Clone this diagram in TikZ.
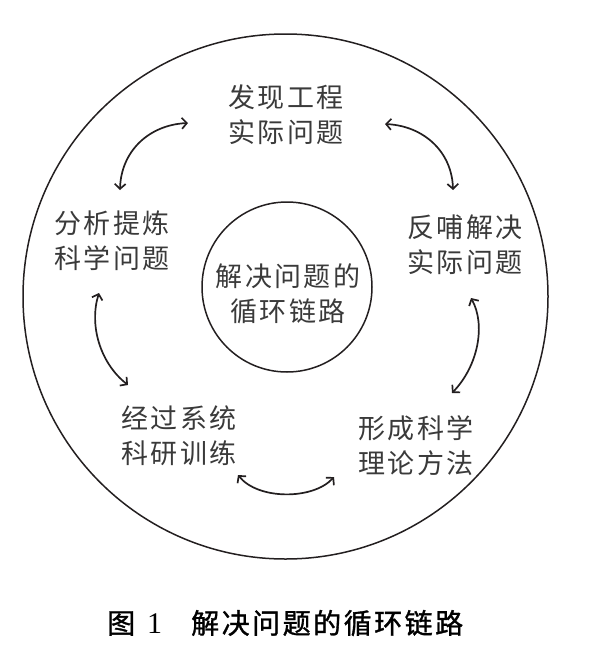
\documentclass[tikz,border=0pt]{standalone}
\usepackage{fontspec}
\usetikzlibrary{arrows.meta}
\setmainfont{Liberation Serif}
\newfontfamily\cjk[LetterSpace=9]{Noto Sans CJK SC}
\newfontfamily\capcjk[FakeBold=1.2]{Noto Sans CJK SC}
\newcommand\capbox[1]{\makebox[30.5pt][l]{#1}}
\definecolor{ink}{HTML}{231F20}
\definecolor{txt}{HTML}{3A3A3A}
\tikzset{
  lbl/.style={align=center, inner sep=0pt, text=txt, font=\cjk\fontsize{27}{35}\selectfont},
  cyc/.style={draw=ink, line width=1.7pt, {Straight Barb[length=5pt,width=11pt]}-{Straight Barb[length=5pt,width=11pt]}},
  ring/.style={draw=ink, line width=1.5pt}
}
\begin{document}
\begin{tikzpicture}[x=1pt,y=-1pt]
\useasboundingbox (0,0) rectangle (589,656);
% outer circle
\draw[ring] (285.5,296.5) circle[radius=262.5pt];
% inner circle
\node[ring, circle, minimum size=170pt, inner sep=0pt] (core) at (287,287) {};
\node[lbl] (coretext) at (288,294) {解决问题的\\循环链路};
% labels
\node[lbl] (top)   at (286,114.5) {发现工程\\实际问题};
\node[lbl] (left)  at (112,240.5) {分析提炼\\科学问题};
\node[lbl] (right) at (465,244.5) {反哺解决\\实际问题};
\node[lbl] (bl)    at (179,435.5) {经过系统\\科研训练};
\node[lbl] (br)    at (416,445.5) {形成科学\\理论方法};
% arrow end points
\coordinate (a1) at (120,190);
\coordinate (a2) at (188,123);
\coordinate (b1) at (453,190);
\coordinate (b2) at (385,124);
\coordinate (c1) at (99,293);
\coordinate (c2) at (128,385);
\coordinate (d1) at (471,298);
\coordinate (d2) at (452,393);
\coordinate (e1) at (238,475);
\coordinate (e2) at (334,477);
% arrows
\draw[cyc] (a1) .. controls (121,152) and (148,125) .. (a2);
\draw[cyc] (b1) .. controls (452,152) and (424,126) .. (b2);
\draw[cyc] (c1) .. controls (89,325) and (100,363) .. (c2);
\draw[cyc] (d1) .. controls (486,325) and (478,366) .. (d2);
\draw[cyc] (e1) .. controls (258,500) and (313,500) .. (e2);
% caption
\node[anchor=west, inner sep=0pt, text=black] (cap) at (107,623)
  {\capcjk\fontsize{28}{30}\selectfont \makebox[40pt][l]{图}\makebox[44pt][l]{\rmfamily\fontsize{30}{30}\selectfont 1}\capbox{解}\capbox{决}\capbox{问}\capbox{题}\capbox{的}\capbox{循}\capbox{环}\capbox{链}\capbox{路}};
\end{tikzpicture}
\end{document}
